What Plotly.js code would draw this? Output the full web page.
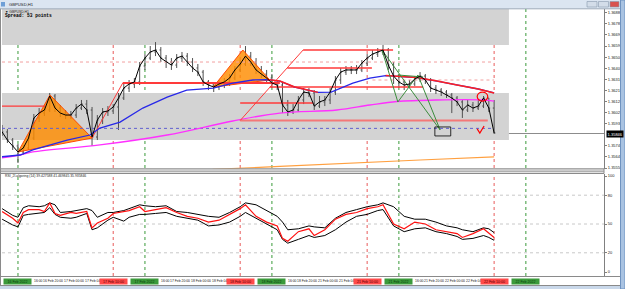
<!DOCTYPE html>
<html><head><meta charset="utf-8">
<script src="https://cdn.plot.ly/plotly-3.0.1.min.js"></script>
<style>html,body{margin:0;padding:0;background:#fff;overflow:hidden}#chart{width:625px;height:289px}</style>
</head><body><div id="chart"></div>
<script>
// ---------- DATA ----------
const firstBar = -3, lastBar = 90;
const closeP = [1.35859,1.35790,1.35739,1.35688,1.35722,1.35807,1.35979,1.36021,1.36047,1.36167,
1.36064,1.36021,1.36004,1.36004,1.36064,1.36098,1.36047,1.35816,1.35962,1.36030,
1.36039,1.36073,1.36150,1.36235,1.36270,1.36287,1.36424,1.36492,1.36544,1.36561,
1.36492,1.36458,1.36432,1.36492,1.36509,1.36458,1.36407,1.36372,1.36287,1.36261,
1.36244,1.36270,1.36287,1.36321,1.36390,1.36441,1.36509,1.36458,1.36390,1.36355,
1.36321,1.36278,1.36261,1.36090,1.36030,1.36047,1.36133,1.36201,1.36193,1.36081,
1.36116,1.36133,1.36201,1.36304,1.36372,1.36390,1.36390,1.36390,1.36449,1.36492,
1.36526,1.36544,1.36561,1.36432,1.36338,1.36287,1.36261,1.36270,1.36312,1.36338,
1.36304,1.36235,1.36218,1.36201,1.36176,1.36150,1.36116,1.36047,1.36090,1.36064,
1.36081,1.36150,1.36064,1.35850];
const openP = [1.35884,1.35859,1.35790,1.35739,1.35688,1.35722,1.35807,1.35979,1.36021,1.36047,
1.36167,1.36064,1.36021,1.36004,1.36004,1.36064,1.36098,1.36047,1.35816,1.35962,
1.36030,1.36039,1.36073,1.36150,1.36235,1.36270,1.36287,1.36424,1.36492,1.36544,
1.36561,1.36492,1.36458,1.36432,1.36492,1.36509,1.36458,1.36407,1.36372,1.36287,
1.36261,1.36244,1.36270,1.36287,1.36321,1.36390,1.36441,1.36509,1.36458,1.36390,
1.36355,1.36321,1.36278,1.36261,1.36090,1.36030,1.36047,1.36133,1.36201,1.36193,
1.36081,1.36116,1.36133,1.36201,1.36304,1.36372,1.36390,1.36390,1.36390,1.36449,
1.36492,1.36526,1.36544,1.36561,1.36432,1.36338,1.36287,1.36261,1.36270,1.36312,
1.36338,1.36304,1.36235,1.36218,1.36201,1.36176,1.36150,1.36116,1.36047,1.36090,
1.36064,1.36081,1.36150,1.36064];
const highP = [1.35919,1.35884,1.35807,1.35756,1.35748,1.35833,1.36013,1.36064,1.36081,1.36193,
1.36184,1.36090,1.36047,1.36039,1.36098,1.36133,1.36133,1.36073,1.36004,1.36064,
1.36081,1.36098,1.36193,1.36270,1.36304,1.36321,1.36458,1.36526,1.36595,1.36629,
1.36586,1.36518,1.36492,1.36526,1.36544,1.36535,1.36492,1.36441,1.36390,1.36304,
1.36278,1.36304,1.36321,1.36355,1.36424,1.36475,1.36595,1.36544,1.36492,1.36424,
1.36390,1.36355,1.36304,1.36287,1.36133,1.36098,1.36167,1.36235,1.36235,1.36218,
1.36167,1.36167,1.36235,1.36338,1.36407,1.36424,1.36424,1.36432,1.36475,1.36526,
1.36561,1.36578,1.36604,1.36578,1.36458,1.36355,1.36304,1.36304,1.36338,1.36372,
1.36355,1.36321,1.36261,1.36235,1.36218,1.36193,1.36167,1.36133,1.36133,1.36116,
1.36133,1.36167,1.36150,1.36133];
const lowP = [1.35825,1.35765,1.35705,1.35593,1.35662,1.35705,1.35790,1.35944,1.35996,1.36030,
1.36030,1.35987,1.35970,1.35970,1.35979,1.36047,1.36013,1.35739,1.35790,1.35927,
1.35996,1.36013,1.35876,1.36133,1.36201,1.36235,1.36261,1.36390,1.36475,1.36509,
1.36458,1.36407,1.36390,1.36407,1.36458,1.36424,1.36372,1.36338,1.36253,1.36218,
1.36201,1.36218,1.36235,1.36253,1.36304,1.36372,1.36424,1.36424,1.36355,1.36321,
1.36287,1.36235,1.36218,1.36021,1.35996,1.36013,1.36030,1.36098,1.36158,1.36047,
1.36064,1.36081,1.36098,1.36176,1.36270,1.36347,1.36355,1.36355,1.36372,1.36424,
1.36475,1.36501,1.36518,1.36390,1.36270,1.36235,1.36218,1.36235,1.36253,1.36287,
1.36270,1.36201,1.36184,1.36167,1.36150,1.36021,1.36081,1.35979,1.36030,1.36030,
1.36047,1.36064,1.36030,1.35842];

const maFastIdx = [-3.4,0.4,2.8,9.3,13.6,15.5,19.3,23.6,28.2,31.9,36.9,40.6,44.4,47.1,49.5,52.3,56.7,59.2,63.3,66.5,69.5,75.4,79.2,83,87,90];
const maFast = [1.35645,1.35662,1.35705,1.35790,1.35833,1.35893,1.35944,1.36064,1.36158,1.36218,1.36235,1.36278,1.36304,1.36308,1.36295,1.36244,1.36198,1.36201,1.36278,1.36321,1.36342,1.36325,1.36295,1.36261,1.36227,1.36193];
const maSlowIdx = [-3.4,0.4,2.8,15.5,28.2,40.6,49.5,60.3,66.5,71.6,79.2,87.9,90];
const maSlow = [1.35636,1.35662,1.35688,1.35748,1.35833,1.35953,1.36021,1.36047,1.36090,1.36120,1.36133,1.36133,1.36124];
const maLongIdx = [30,36.9,49.5,62.8,76,90];
const maLong = [1.35500,1.35538,1.35564,1.35593,1.35619,1.35645];

const tri1Idx = [0,6.05,14], tri1P = [1.35688,1.36176,1.35807];
const tri2Idx = [36.9,42.5,47.6], tri2P = [1.36244,1.36561,1.36304];

const levelX0 = [-3.02,19.8,42,42,47.6,50.9,53.9];
const levelX1 = [5.1,49.5,88.8,55.8,76.6,66.9,70.9];
const levelP  = [1.36081,1.36278,1.35957,1.36107,1.36244,1.36407,1.36561];
const trendX0 = [42,14], trendP0 = [1.35957,1.35807];
const trendX1 = [53.9,19.8], trendP1 = [1.36561,1.36278];

const zigIdx = [68.8,71.8,75.6,79.8,null,68.8,79.8,null,71.8,76.6];
const zigP   = [1.36561,1.36116,1.36347,1.35876,null,1.36561,1.35876,null,1.36347,1.36330];
const boxIdx = [78.8,81.8], boxP = [1.35825,1.35902];
const ellIdx = [86.8,88.8], ellP = [1.36124,1.36201];
const chkIdx = [86.8,87.3,88.1], chkP = [1.35885,1.35850,1.35910];

const bandTop = [1.36604,1.37000], bandMid = [1.35790,1.36193], bandEndIdx = 92.8;
const bidPrice = 1.35846, dotBlueP = 1.35890;
const dotPinkP = [1.36458,1.36304], dotPinkX0 = [-3.02,67];

const priceTicks = [1.36880,1.36785,1.36690,1.36595,1.36500,1.36405,1.36310,1.36215,1.36120,1.36025,1.35930,1.35740,1.35645,1.35550];

const rsiIdx = [-3,-1,0,1,2,4,5,6,7,8,10,11,13,14,15,17,18,20,21,23,24,26,28,30,32,34,36,38,40,42,43,45,47,49,50,51,53,55,56,58,60,62,64,66,68,69,71,73,75,77,79,81,83,84,86,88,89,90];
const rsiMain = [63,56,51,62,65,65,63,72,61,59,62,61,63,46,51,56,61,63,64,68,63,65,67,62,58,56,52,54,60,66,70,58,52,48,35,32,42,45,38,44,55,60,62,66,68,70,50,45,52,50,44,42,40,36,40,45,40,36];
const rsiUpper = [66,59,57,67,69,68,69,72,70,62,63,64,66,64,57,62,62,64,66,70,69,68,69,63,62,60,58,57,62,68,72,70,64,58,52,44,45,48,47,46,56,62,65,68,70,72,68,58,55,55,52,48,46,44,42,46,45,41];
const rsiLower = [55,49,47,59,60,61,62,67,60,57,56,57,61,44,46,54,57,53,57,60,60,61,62,58,56,54,48,49,52,58,62,56,50,44,34,30,34,38,36,38,44,52,58,60,64,65,48,42,45,46,42,40,37,34,35,38,36,33];
const rsiLevels = [20,50,80];

const sepGreen = [0,24,48,72,96];
const sepRed = [18,42,66,90];
const sepGreenText = ['16 Feb 2022','17 Feb 2022','18 Feb 2022','21 Feb 2022','22 Feb 2022'];
const sepRedText = ['17 Feb 10:00','18 Feb 10:00','21 Feb 10:00','22 Feb 10:00'];
// visible parts of the time-axis labels (the rest is hidden under the session boxes)
const xTickIdx = [0,4,8,12,24,28,32,36,48,52,56,60,72,76,80,84];
const xTickText = ['16:00','16 Feb 20:00','17 Feb 00:00','17 Feb 04','16:00','17 Feb 20:00','18 Feb 00:00','18 Feb 04',
                   '16:00','18 Feb 20:00','21 Feb 00:00','21 Feb 04','16:00','21 Feb 20:00','22 Feb 00:00','22 Feb 04'];

// ---------- BUILD ----------
const bars = [];
for (let i = firstBar; i <= lastBar; i++) bars.push(i);
const FONT = 'Liberation Sans, Arial, sans-serif';
const XR = [-3.02, 110.77];
const px = v => (v - 2) / 602;        // pixel -> paper x
const py = v => (276 - v) / 267;      // pixel -> paper y

const traces = [];
[[tri1Idx,tri1P],[tri2Idx,tri2P]].forEach(([xs,ys]) => traces.push({
  x: xs.concat([xs[0]]), y: ys.concat([ys[0]]), mode:'lines', fill:'toself',
  fillcolor:'rgba(255,140,0,0.82)', line:{color:'#ff4a00', width:1}, xaxis:'x', yaxis:'y', hoverinfo:'skip'
}));
traces.push({x:[XR[0],lastBar], y:[dotBlueP,dotBlueP], mode:'lines', line:{color:'#6060d0',width:1,dash:'dot'}, xaxis:'x', yaxis:'y'});
dotPinkP.forEach((p,k)=>traces.push({x:[dotPinkX0[k],lastBar], y:[p,p], mode:'lines', line:{color:'#f2a0a0',width:1,dash:'dot'}, xaxis:'x', yaxis:'y'}));
traces.push({x:maLongIdx, y:maLong, mode:'lines', line:{color:'#ffa040',width:1.2}, xaxis:'x', yaxis:'y'});
traces.push({x:maSlowIdx, y:maSlow, mode:'lines', line:{color:'#ff30ff',width:1.3, shape:'spline'}, xaxis:'x', yaxis:'y'});
levelP.forEach((p,k)=>traces.push({x:[levelX0[k],levelX1[k]], y:[p,p], mode:'lines',
  line:{color: k===2 ? '#f47878' : '#ff3a3a', width: (k===2||k===1) ? 2 : 1.3}, xaxis:'x', yaxis:'y'}));
trendX0.forEach((x0,k)=>traces.push({x:[x0,trendX1[k]], y:[trendP0[k],trendP1[k]], mode:'lines', line:{color:'#ff3a3a',width:1}, xaxis:'x', yaxis:'y'}));
traces.push({x:maFastIdx, y:maFast, mode:'lines', line:{color:'#2828e8',width:1.3}, xaxis:'x', yaxis:'y'});
const rx = [], ry = [];
for (let k = 0; k < maFast.length - 1; k++) {
  if (maFast[k+1] < maFast[k]) { rx.push(maFastIdx[k], maFastIdx[k+1], null); ry.push(maFast[k], maFast[k+1], null); }
}
traces.push({x:rx, y:ry, mode:'lines', line:{color:'#ff2020',width:1.5}, xaxis:'x', yaxis:'y'});
traces.push({x:zigIdx, y:zigP, mode:'lines', line:{color:'#3c8c3c',width:1}, connectgaps:false, xaxis:'x', yaxis:'y'});
traces.push({x:[boxIdx[0],boxIdx[1],boxIdx[1],boxIdx[0],boxIdx[0]], y:[boxP[0],boxP[0],boxP[1],boxP[1],boxP[0]], mode:'lines', line:{color:'#000',width:0.8}, xaxis:'x', yaxis:'y'});
traces.push({x:chkIdx, y:chkP, mode:'lines', line:{color:'#ff0000',width:1.2}, xaxis:'x', yaxis:'y'});
traces.push({type:'ohlc', x:bars, open:openP, high:highP, low:lowP, close:closeP, xaxis:'x', yaxis:'y',
  increasing:{line:{color:'#505050',width:1}}, decreasing:{line:{color:'#505050',width:1}}, tickwidth:0.25, hoverinfo:'skip'});
traces.push({x:bars, y:closeP, mode:'lines', line:{color:'#000',width:1}, xaxis:'x', yaxis:'y'});
traces.push({x:rsiIdx, y:rsiUpper, mode:'lines', line:{color:'#000',width:1}, xaxis:'x2', yaxis:'y2'});
traces.push({x:rsiIdx, y:rsiLower, mode:'lines', line:{color:'#000',width:1}, xaxis:'x2', yaxis:'y2'});
traces.push({x:rsiIdx, y:rsiMain, mode:'lines', line:{color:'#ff1010',width:1.2}, xaxis:'x2', yaxis:'y2'});

const shapes = [];
[bandTop, bandMid].forEach(b => shapes.push({type:'rect', xref:'x', yref:'y', x0:XR[0], x1:bandEndIdx, y0:b[0], y1:b[1], fillcolor:'#d3d3d3', line:{width:0}, layer:'below'}));
sepGreen.forEach(i => shapes.push({type:'line', xref:'x', yref:'paper', x0:i, x1:i, y0:0, y1:1, line:{color:'#3a9a3a',width:1,dash:'dot'}, layer:'below'}));
sepRed.forEach(i => shapes.push({type:'line', xref:'x', yref:'paper', x0:i, x1:i, y0:0, y1:1, line:{color:'#e85a5a',width:1,dash:'dot'}, layer:'below'}));
rsiLevels.forEach(v => shapes.push({type:'line', xref:'paper', yref:'y2', x0:0, x1:1, y0:v, y1:v, line:{color:'#c8c8c8',width:1,dash:'dot'}, layer:'below'}));
shapes.push({type:'line', xref:'paper', yref:'y', x0:0, x1:1, y0:bidPrice, y1:bidPrice, line:{color:'#8c8c8c',width:1}, layer:'below'});
shapes.push({type:'circle', xref:'x', yref:'y', x0:ellIdx[0], x1:ellIdx[1], y0:ellP[0], y1:ellP[1], line:{color:'#ff0000',width:1.2}});
shapes.push({type:'rect', xref:'paper', yref:'paper', x0:px(0), x1:1, y0:py(173.5), y1:py(168.8), fillcolor:'#e2e2e2', line:{color:'#8a8a8a',width:1}});
shapes.push({type:'line', xref:'paper', yref:'paper', x0:px(0), x1:1, y0:py(171.2), y1:py(171.2), line:{color:'#9a9a9a',width:1}});
shapes.push({type:'line', xref:'paper', yref:'paper', x0:px(0.5), x1:px(0.5), y0:py(289), y1:py(8.5), line:{color:'#8a8a8a',width:1}});
shapes.push({type:'line', xref:'paper', yref:'paper', x0:px(0), x1:px(620), y0:py(276.5), y1:py(276.5), line:{color:'#8a8a8a',width:1}});
shapes.push({type:'line', xref:'paper', yref:'paper', x0:px(0), x1:px(620), y0:py(285.5), y1:py(285.5), line:{color:'#8a8a8a',width:1}});
shapes.push({type:'rect', xref:'paper', yref:'paper', x0:px(0), x1:px(625), y0:py(289), y1:py(286), fillcolor:'#c9d8ea', line:{width:0}});
shapes.push({type:'rect', xref:'paper', yref:'paper', x0:px(0), x1:px(625), y0:py(8.6), y1:py(0), fillcolor:'#dbe5f1', line:{width:0}});
shapes.push({type:'line', xref:'paper', yref:'paper', x0:px(0), x1:px(620), y0:py(8.8), y1:py(8.8), line:{color:'#9aa8b8',width:1}});
shapes.push({type:'rect', xref:'paper', yref:'paper', x0:px(620.5), x1:px(625), y0:py(289), y1:py(0), fillcolor:'#a9c3e2', line:{color:'#6f93c0',width:1}});
shapes.push({type:'rect', xref:'paper', yref:'paper', x0:px(1), x1:px(5), y0:py(6.5), y1:py(2), fillcolor:'#6f9fd6', line:{width:0}});
[[587,597,'#d3dde9'],[598.5,608.5,'#d3dde9'],[610,619,'#d9534f']].forEach(b => shapes.push({type:'rect', xref:'paper', yref:'paper', x0:px(b[0]), x1:px(b[1]), y0:py(7), y1:py(1.5), fillcolor:b[2], line:{color:'#8898ac',width:0.6}}));

const annotations = [];
annotations.push({xref:'paper', yref:'paper', x:px(7), y:py(4.5), xanchor:'left', yanchor:'middle', text:'GBPUSD,H1', showarrow:false, font:{family:FONT,size:4.2,color:'#1a1a1a'}});
annotations.push({xref:'paper', yref:'paper', x:px(3), y:py(11.8), xanchor:'left', yanchor:'middle', text:'▼ GBPUSD,H1', showarrow:false, font:{family:FONT,size:3.4,color:'#222'}});
annotations.push({xref:'paper', yref:'paper', x:px(3), y:py(15.7), xanchor:'left', yanchor:'middle', text:'<b>Spread: 53 points</b>', showarrow:false, font:{family:'Liberation Mono, monospace',size:4.6,color:'#000'}});
annotations.push({xref:'paper', yref:'paper', x:px(3), y:py(176.4), xanchor:'left', yanchor:'middle', text:'RSI_2l-algoring (14) 39.427588 41.469845 35.935846', showarrow:false, font:{family:FONT,size:3.4,color:'#222'}});
annotations.push({xref:'paper', yref:'y', x:px(605.5), y:bidPrice, xanchor:'left', yanchor:'middle', text:bidPrice.toFixed(5), showarrow:false, bgcolor:'#000', borderpad:0.6, font:{family:FONT,size:4,color:'#fff'}});
xTickIdx.forEach((i,k) => annotations.push({xref:'x2', yref:'paper', x:i, y:py(281.3), xanchor:'left', yanchor:'middle',
  xshift: sepGreen.includes(i) ? 14.5 : 2, text:xTickText[k], showarrow:false, font:{family:FONT,size:3.4,color:'#222'}}));
sepGreen.forEach((i,k) => annotations.push({xref:'x2', yref:'paper', x:i, y:py(281.5), xanchor:'center', yanchor:'middle', text:sepGreenText[k], showarrow:false, bgcolor:'#3b9a3b', width:27, height:5, borderpad:0, font:{family:FONT,size:3.6,color:'#0c3a0c'}}));
sepRed.forEach((i,k) => annotations.push({xref:'x2', yref:'paper', x:i, y:py(281.5), xanchor:'center', yanchor:'middle', text:sepRedText[k], showarrow:false, bgcolor:'#ff4a4a', width:27, height:5, borderpad:0, font:{family:FONT,size:3.6,color:'#5a0000'}}));

const layout = {
  width:625, height:289, margin:{l:2, r:21, t:9, b:13},
  paper_bgcolor:'#ffffff', plot_bgcolor:'#ffffff', showlegend:false, hovermode:false,
  font:{family:FONT, size:4, color:'#222'},
  xaxis:{domain:[0,1], range:XR, anchor:'y', showticklabels:false, showgrid:false, zeroline:false, rangeslider:{visible:false}},
  xaxis2:{domain:[0,1], range:XR, anchor:'y2', matches:'x', showticklabels:false, showgrid:false, zeroline:false},
  yaxis:{domain:[py(169),1], range:[1.35542,1.36912], side:'right', tickvals:priceTicks, ticktext:priceTicks.map(v=>v.toFixed(5)),
    tickfont:{family:FONT,size:4,color:'#222'}, ticks:'outside', ticklen:2, tickcolor:'#808080', showgrid:false, zeroline:false,
    showline:true, linecolor:'#808080', linewidth:1},
  yaxis2:{domain:[0,py(174)], range:[-4.17,102.08], side:'right', tickvals:[0,20,50,80,100], ticktext:['0','20','50','80','100'],
    tickfont:{family:FONT,size:4,color:'#222'}, ticks:'outside', ticklen:2, tickcolor:'#808080', showgrid:false, zeroline:false,
    showline:true, linecolor:'#808080', linewidth:1},
  shapes: shapes, annotations: annotations
};
Plotly.newPlot('chart', traces, layout, {staticPlot:true, displayModeBar:false});
</script></body></html>
